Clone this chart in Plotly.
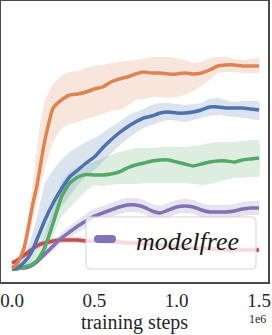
import plotly.graph_objects as go

# training steps (x 1e6)
steps = [0, 0.025, 0.05, 0.075, 0.1, 0.125, 0.15, 0.175, 0.2,
         0.25, 0.3, 0.35, 0.4, 0.45, 0.5, 0.55, 0.6, 0.65, 0.7, 0.75,
         0.8, 0.85, 0.9, 0.95, 1.0, 1.05, 1.1, 1.15, 1.2, 1.25, 1.3,
         1.35, 1.4, 1.45, 1.5]

orange_mean = [10, 25, 60, 115, 215, 325, 415, 535, 650, 810, 850, 875, 880, 890, 905, 915, 940, 955, 965, 980,
               990, 985, 985, 980, 980, 985, 980, 985, 1000, 1020, 1025, 1025, 1020, 1020, 1020]
orange_hi = [20, 40, 85, 160, 275, 425, 600, 750, 850, 930, 970, 990, 995, 1010, 1020, 1025, 1035, 1040, 1045, 1050,
             1055, 1065, 1065, 1065, 1060, 1050, 1035, 1040, 1060, 1065, 1065, 1055, 1050, 1055, 1060]
orange_lo = [0, 10, 35, 75, 150, 240, 325, 425, 510, 640, 705, 730, 740, 755, 765, 780, 795, 800, 820, 850,
             855, 865, 865, 860, 865, 875, 895, 920, 950, 985, 990, 990, 985, 985, 985]

blue_mean = [5, 10, 20, 40, 65, 100, 150, 200, 250, 335, 405, 465, 500, 535, 565, 610, 650, 685, 715, 740,
             760, 770, 785, 790, 785, 785, 790, 800, 815, 815, 810, 810, 810, 805, 800]
blue_hi = [15, 25, 40, 75, 125, 185, 260, 350, 435, 500, 550, 590, 615, 640, 660, 685, 715, 740, 770, 790,
           805, 825, 835, 835, 830, 825, 830, 835, 855, 860, 850, 840, 845, 845, 845]
blue_lo = [0, 0, 5, 15, 30, 55, 85, 120, 160, 240, 315, 370, 425, 470, 500, 540, 580, 620, 655, 685,
           710, 725, 740, 750, 745, 740, 750, 760, 770, 775, 770, 765, 760, 755, 750]

green_mean = [5, 5, 10, 15, 20, 30, 45, 75, 115, 235, 365, 435, 465, 478, 475, 475, 480, 490, 510, 525,
              535, 545, 550, 550, 540, 530, 520, 530, 540, 545, 545, 540, 550, 555, 560]
green_hi = [10, 10, 15, 25, 40, 60, 85, 125, 175, 310, 440, 490, 515, 530, 540, 560, 575, 590, 600, 610,
            610, 610, 615, 615, 615, 615, 620, 625, 635, 640, 640, 640, 645, 650, 650]
green_lo = [0, 0, 0, 5, 10, 20, 30, 50, 75, 170, 265, 310, 355, 395, 425, 420, 425, 430, 430, 430,
            435, 435, 435, 435, 435, 435, 430, 425, 430, 440, 450, 460, 460, 465, 465]

purple_mean = [5, 5, 10, 10, 15, 25, 40, 60, 80, 120, 160, 190, 220, 245, 270, 285, 300, 315, 325, 325,
               315, 295, 285, 300, 315, 320, 315, 300, 290, 290, 290, 295, 305, 310, 310]
purple_hi = [15, 15, 20, 20, 25, 40, 55, 75, 100, 145, 185, 220, 250, 280, 305, 320, 335, 350, 360, 360,
             350, 330, 320, 335, 350, 355, 350, 335, 325, 325, 325, 330, 340, 345, 345]
purple_lo = [-5, -5, 0, 0, 5, 10, 25, 45, 60, 95, 135, 160, 190, 210, 235, 250, 265, 280, 290, 290,
             280, 260, 250, 265, 280, 285, 280, 265, 255, 255, 255, 260, 270, 275, 275]

red_mean = [35, 45, 60, 75, 90, 105, 120, 130, 135, 145, 150, 150, 150, 145, 145, 145, 140, 140, 135, 135,
            130, 125, 125, 120, 120, 115, 110, 110, 105, 105, 100, 100, 100, 100, 100]
red_hi = [50, 60, 75, 90, 105, 120, 135, 145, 150, 160, 165, 165, 165, 160, 160, 160, 155, 155, 150, 150,
          145, 140, 140, 135, 135, 130, 125, 125, 120, 120, 115, 115, 115, 115, 115]
red_lo = [20, 30, 45, 60, 75, 90, 105, 115, 120, 130, 135, 135, 135, 130, 130, 130, 125, 125, 120, 120,
          115, 110, 110, 105, 105, 100, 95, 95, 90, 90, 85, 85, 85, 85, 85]

legend_label = "modelfree"
tick_vals = [0.0, 0.5, 1.0, 1.5]
tick_text = ["0.0", "0.5", "1.0", "1.5"]

FONT = "Liberation Serif"
series = [
    ("red", red_mean, red_hi, red_lo, "#C44E52", "196,78,82"),
    ("purple", purple_mean, purple_hi, purple_lo, "#8172B3", "129,114,179"),
    ("green", green_mean, green_hi, green_lo, "#55A868", "85,168,104"),
    ("blue", blue_mean, blue_hi, blue_lo, "#4C72B0", "76,114,176"),
    ("orange", orange_mean, orange_hi, orange_lo, "#DD8452", "221,132,82"),
]

fig = go.Figure()
xs = [s * 1e6 for s in steps]
for name, m, hi, lo, col, rgb in series:
    fig.add_trace(go.Scatter(
        x=xs + xs[::-1], y=hi + lo[::-1], fill="toself",
        fillcolor=f"rgba({rgb},0.2)", line=dict(width=0, shape="spline", smoothing=0.4),
        hoverinfo="skip", showlegend=False, mode="lines"))
for name, m, hi, lo, col, rgb in series:
    fig.add_trace(go.Scatter(
        x=xs, y=m, mode="lines", name=name, showlegend=False,
        line=dict(color=col, width=3.5, shape="spline", smoothing=0.4)))

W, H = 272, 335
ML, MR, MT, MB = 1, 4, 1, 53
PW, PH = W - ML - MR, H - MT - MB


def px_x(p):
    return (p - ML) / PW


def px_y(p):
    return (H - MB - p) / PH


def rrect(x0, x1, y0, y1, r):
    # pixel corners -> paper path with rounded corners
    X0, X1 = px_x(x0), px_x(x1)
    Y0, Y1 = px_y(y1), px_y(y0)
    rx, ry = r / PW, r / PH
    return (f"M {X0+rx},{Y0} L {X1-rx},{Y0} Q {X1},{Y0} {X1},{Y0+ry} "
            f"L {X1},{Y1-ry} Q {X1},{Y1} {X1-rx},{Y1} L {X0+rx},{Y1} "
            f"Q {X0},{Y1} {X0},{Y1-ry} L {X0},{Y0+ry} Q {X0},{Y0} {X0+rx},{Y0} Z")


shapes = [
    dict(type="path", xref="paper", yref="paper", path=rrect(86, 256, 217, 269, 4),
         fillcolor="rgba(255,255,255,0.8)", line=dict(color="#d3d3d3", width=1), layer="above"),
    dict(type="path", xref="paper", yref="paper", path=rrect(94, 116, 235, 243, 4),
         fillcolor="#8172B3", line=dict(width=0), layer="above"),
]

annotations = [
    dict(text=f"<i>{legend_label}</i>", xref="paper", yref="paper", x=px_x(134), y=px_y(241),
         xanchor="left", yanchor="middle", showarrow=False,
         font=dict(family=FONT, size=26, color="#1a1a1a")),
    dict(text="1e6", xref="paper", yref="paper", x=1.0, y=0, xanchor="right", yanchor="top",
         xshift=0, yshift=-28, showarrow=False, font=dict(family=FONT, size=12, color="#262626")),
]

fig.update_layout(
    width=W, height=H, margin=dict(l=ML, r=MR, t=MT, b=MB),
    paper_bgcolor="white", plot_bgcolor="white", showlegend=False,
    shapes=shapes, annotations=annotations,
    xaxis=dict(range=[-0.0668e6, 1.5546e6], tickvals=[v * 1e6 for v in tick_vals], ticktext=tick_text,
               showgrid=False, zeroline=False, showline=True, mirror=True, linecolor="#4a4a4a", linewidth=2,
               ticks="", automargin=False,
               tickfont=dict(family=FONT, size=19, color="#262626"),
               title=dict(text="training steps", font=dict(family=FONT, size=20, color="#262626"), standoff=0)),
    yaxis=dict(range=[-60, 1345], showticklabels=False, showgrid=False, zeroline=False, automargin=False,
               showline=True, mirror=True, linecolor="#4a4a4a", linewidth=2, ticks=""),
)

fig.write_html("out.html", config={"displayModeBar": False},
               post_script="document.body.style.margin='0';document.body.style.overflow='hidden';")
